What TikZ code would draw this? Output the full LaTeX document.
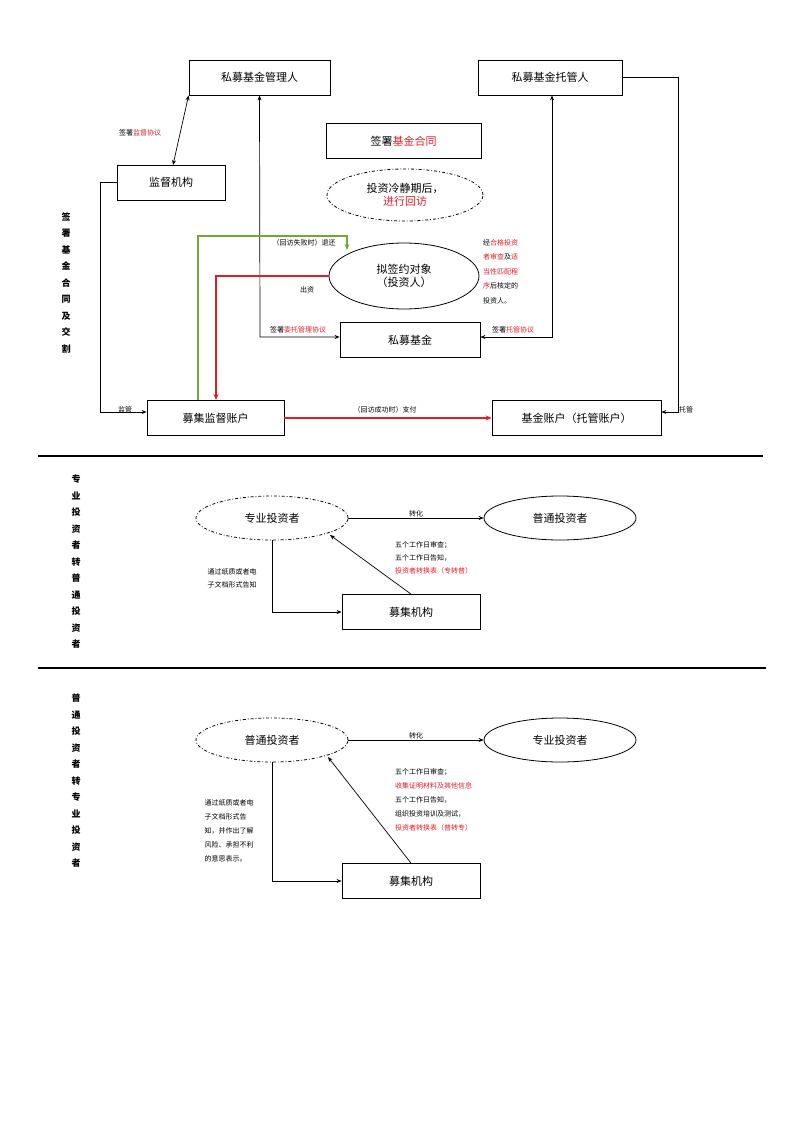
\documentclass[tikz,border=0pt]{standalone}
\usepackage{fontspec}
\setmainfont{Noto Sans CJK SC}
\usetikzlibrary{arrows.meta,shapes.geometric}
\definecolor{rd}{RGB}{225,30,40}
\definecolor{gr}{RGB}{110,170,50}
\begin{document}
\begin{tikzpicture}[x=1pt,y=-1pt,
  box/.style={draw,line width=0.8pt,minimum width=#1,minimum height=35pt,font=\fontsize{11}{13}\selectfont,inner sep=0pt},
  ell/.style={draw,ellipse,line width=0.8pt,minimum width=152pt,minimum height=44pt,font=\fontsize{11}{13}\selectfont,inner sep=0pt},
  dell/.style={ell,dash dot},
  ln/.style={line width=0.7pt},
  ar/.style={ln,-{Stealth[length=5pt,width=4pt]}},
  lab/.style={font=\fontsize{7}{9}\selectfont,inner sep=1pt},
  vlab/.style={font=\bfseries\fontsize{9}{16.5}\selectfont,align=center,text width=10pt},
  r/.style={text=rd}]
\useasboundingbox (0,0) rectangle (800,1131);
% ---------- section 1
\node[box=141pt] (mgr) at (259.5,77.5) {私募基金管理人};
\node[box=144pt] (cus) at (550,77.5) {私募基金托管人};
\node[box=155pt] (ht) at (403.5,141) {签署\textcolor{rd}{基金合同}};
\node[dell,minimum width=156pt,minimum height=52pt,align=center] (cool) at (405,195) {投资冷静期后，\\\textcolor{rd}{进行回访}};
\node[box=108pt] (sup) at (171,182.5) {监督机构};
\node[ell,minimum width=150pt,minimum height=66pt,align=center] (inv) at (404,276) {拟签约对象\\（投资人）};
\node[box=140pt] (fund) at (410,340) {私募基金};
\node[box=137pt] (raise) at (215.5,418) {募集监督账户};
\node[box=169pt] (facc) at (576.5,418) {基金账户（托管账户）};
\node[lab,align=left,anchor=north west,font=\fontsize{7}{14.5}\selectfont] (note) at (482,238)
 {经\textcolor{rd}{合格投资}\\\textcolor{rd}{者审查}及\textcolor{rd}{适}\\\textcolor{rd}{当性匹配程}\\\textcolor{rd}{序}后核定的\\投资人。};
\coordinate (m1) at (173,165);
\draw[ln,{Stealth[length=5pt,width=4pt]}-{Stealth[length=5pt,width=4pt]}] (m1) -- (mgr.south west);
\node[lab] (l1) at (140,133) {签署\textcolor{rd}{监督协议}};
\coordinate (a1) at (100,182.5); \coordinate (a2) at (100,412);
\draw[ar] (sup.west) -- (a1) -- (a2) -- (raise.west|-a2);
\node[lab] (l2) at (125,410) {监管};
\coordinate (b1) at (678,77.5); \coordinate (b2) at (678,412);
\draw[ar] (cus.east) -- (b1) -- (b2) -- (facc.east|-b2);
\node[lab] (l3) at (686,410) {托管};
\coordinate (c1) at (260,337);
\draw[ln,{Stealth[length=5pt,width=4pt]}-{Stealth[length=5pt,width=4pt]}] (mgr.south) -- (c1) -- (fund.west|-c1);
\node[lab] (l4) at (298,330) {签署\textcolor{rd}{委托管理协议}};
\coordinate (d1) at (552,337);
\draw[ln,{Stealth[length=5pt,width=4pt]}-{Stealth[length=5pt,width=4pt]}] (cus.south-|d1) -- (d1) -- (fund.east|-d1);
\node[lab] (l5) at (513,330) {签署\textcolor{rd}{托管协议}};
\coordinate (g0) at (198,400); \coordinate (g1) at (198,236); \coordinate (g2) at (347,236); \coordinate (g3) at (347,250);
\draw[gr,line width=2.2pt,-{Stealth[length=6pt,width=5pt]}] (g0) -- (g1) -- (g2) -- (g3);
\node[lab] (l6) at (304,243) {（回访失败时）退还};
\coordinate (e1) at (216,276); \coordinate (e2) at (216,400);
\draw[rd,line width=2.5pt,-{Stealth[length=6pt,width=5pt]}] (inv.west) -- (e1) -- (e2);
\node[lab] (l7) at (307,290) {出资};
\draw[rd,line width=2.5pt,-{Stealth[length=6pt,width=5pt]}] (raise.east) -- (facc.west);
\node[lab] (l8) at (385,410) {（回访成功时）支付};
\node[vlab] (v1) at (66,283) {签\\署\\基\\金\\合\\同\\及\\交\\割};
\coordinate (s1) at (38,456); \coordinate (s2) at (763,456);
\draw[line width=1.5pt] (s1) -- (s2);
% ---------- section 2
\node[dell] (p2) at (272,518) {专业投资者};
\node[ell] (q2) at (560,518) {普通投资者};
\node[box=138pt] (j2) at (411,612) {募集机构};
\draw[ar] (p2) -- (q2) node[lab,midway,above] {转化};
\draw[ar] (j2.north) -- (330,535);
\coordinate (h2) at (272,612);
\draw[ar] (p2.south) -- (h2) -- (j2.west);
\node[lab,align=left,font=\fontsize{7}{13}\selectfont] (t2) at (232,578) {通过纸质或者电\\子文档形式告知};
\node[lab,align=left,anchor=north west,font=\fontsize{7}{13}\selectfont] (u2) at (394,540) {五个工作日审查；\\五个工作日告知，\\\textcolor{rd}{投资者转换表（专转普）}};
\node[vlab] (v2) at (76,562) {专\\业\\投\\资\\者\\转\\普\\通\\投\\资\\者};
\coordinate (s3) at (38,668); \coordinate (s4) at (766,668);
\draw[line width=1.5pt] (s3) -- (s4);
% ---------- section 3
\node[dell] (p3) at (272,740) {普通投资者};
\node[ell] (q3) at (560,740) {专业投资者};
\node[box=138pt] (j3) at (411,881) {募集机构};
\draw[ar] (p3) -- (q3) node[lab,midway,above] {转化};
\draw[ar] (j3.north) -- (328,757);
\coordinate (h3) at (272,881);
\draw[ar] (p3.south) -- (h3) -- (j3.west);
\node[lab,align=left,font=\fontsize{7}{14}\selectfont] (t3) at (229,831) {通过纸质或者电\\子文档形式告\\知，并作出了解\\风险、承担不利\\的意思表示。};
\node[lab,align=left,anchor=north west,font=\fontsize{7}{14}\selectfont] (u3) at (394,767) {五个工作日审查；\\\textcolor{rd}{收集证明材料及其他信息}\\五个工作日告知，\\组织投资培训及测试，\\\textcolor{rd}{投资者转换表（普转专）}};
\node[vlab] (v3) at (76,781) {普\\通\\投\\资\\者\\转\\专\\业\\投\\资\\者};
\end{tikzpicture}
\end{document}
